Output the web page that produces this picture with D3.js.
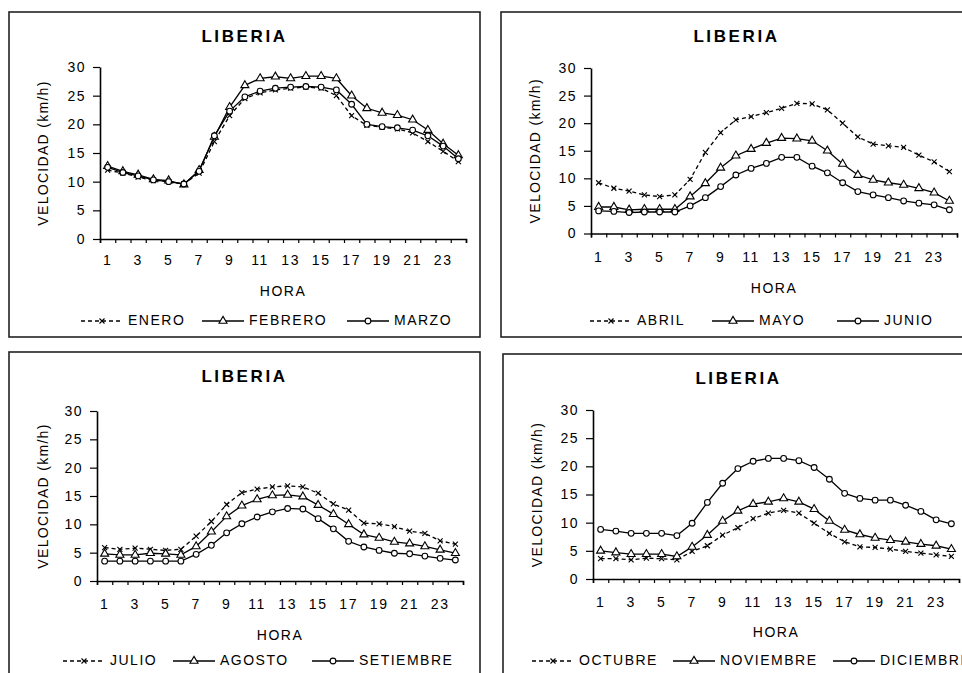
<!doctype html>
<html>
<head>
<meta charset="utf-8">
<title>LIBERIA velocidad del viento</title>
<script src="https://cdn.jsdelivr.net/npm/d3@7"></script>
<style>
  body { margin: 0; background: #fff; }
  text { font-family: "Liberation Sans", Arial, sans-serif; fill: #000; }
</style>
</head>
<body>
<div id="chart"></div>
<script>
  // hours 1..24 (category axis), only odd ones get a label
  var HORAS = [1, 2, 3, 4, 5, 6, 7, 8, 9, 10, 11, 12, 13, 14, 15, 16, 17, 18, 19, 20, 21, 22, 23, 24];
  var Y_TICKS = [0, 5, 10, 15, 20, 25, 30];

  // wind speed km/h
  var ENERO     = [12.0, 11.5, 10.8, 10.2, 10.0, 9.6, 11.5, 17.0, 21.5, 24.5, 25.5, 26.0, 26.3, 26.5, 26.3, 25.0, 21.5, 19.8, 19.5, 19.2, 18.5, 17.0, 15.3, 13.5];
  var FEBRERO   = [12.7, 11.8, 11.2, 10.4, 10.2, 9.5, 12.0, 17.8, 23.0, 26.8, 28.0, 28.3, 28.0, 28.4, 28.4, 28.0, 25.0, 22.8, 22.0, 21.6, 20.8, 19.0, 16.6, 14.6];
  var MARZO     = [12.5, 11.6, 11.0, 10.3, 10.0, 9.6, 11.8, 18.0, 22.3, 24.8, 25.8, 26.3, 26.5, 26.6, 26.5, 26.0, 23.5, 20.0, 19.6, 19.4, 19.0, 18.0, 16.2, 14.0];

  var ABRIL     = [9.2, 8.2, 7.7, 7.0, 6.7, 7.0, 9.8, 14.7, 18.3, 20.6, 21.2, 21.9, 22.7, 23.6, 23.5, 22.4, 20.0, 17.5, 16.2, 15.9, 15.6, 14.2, 13.0, 11.2];
  var MAYO      = [4.8, 4.8, 4.3, 4.4, 4.4, 4.4, 6.7, 9.1, 11.9, 14.1, 15.3, 16.4, 17.3, 17.2, 16.8, 15.0, 12.6, 10.6, 9.7, 9.2, 8.8, 8.2, 7.4, 5.9];
  var JUNIO     = [4.1, 4.0, 3.8, 3.9, 3.9, 3.9, 5.0, 6.5, 8.5, 10.6, 11.8, 12.7, 13.8, 13.8, 12.2, 11.0, 9.2, 7.6, 7.0, 6.5, 5.9, 5.5, 5.2, 4.3];

  var JULIO     = [5.9, 5.6, 5.8, 5.6, 5.4, 5.6, 7.9, 10.5, 13.5, 15.6, 16.2, 16.6, 16.8, 16.6, 15.5, 13.6, 12.5, 10.2, 10.1, 9.6, 8.8, 8.4, 7.1, 6.5];
  var AGOSTO    = [4.8, 4.6, 4.6, 4.9, 4.8, 4.6, 6.1, 8.7, 11.4, 13.3, 14.4, 15.1, 15.2, 14.9, 13.4, 11.8, 10.0, 8.2, 7.6, 6.9, 6.6, 6.1, 5.5, 4.9];
  var SETIEMBRE = [3.5, 3.5, 3.5, 3.5, 3.5, 3.5, 4.7, 6.3, 8.5, 10.1, 11.3, 12.2, 12.8, 12.7, 11.0, 9.2, 7.0, 6.0, 5.4, 4.9, 4.8, 4.4, 4.0, 3.7];

  var OCTUBRE   = [3.6, 3.6, 3.4, 3.7, 3.6, 3.4, 4.9, 5.9, 7.8, 9.1, 10.7, 11.7, 12.2, 11.7, 9.9, 8.1, 6.6, 5.7, 5.6, 5.3, 4.9, 4.6, 4.3, 4.0];
  var NOVIEMBRE = [5.0, 4.7, 4.4, 4.4, 4.4, 4.0, 5.7, 7.8, 10.3, 12.1, 13.3, 13.7, 14.3, 13.7, 12.4, 10.3, 8.7, 7.9, 7.3, 6.9, 6.6, 6.2, 5.9, 5.3];
  var DICIEMBRE = [8.8, 8.5, 8.1, 8.1, 8.1, 7.7, 9.9, 13.6, 17.0, 19.6, 20.9, 21.4, 21.4, 21.0, 19.8, 17.7, 15.2, 14.3, 14.0, 14.0, 13.1, 12.0, 10.5, 9.8];

  var panels = [
    {ox: 9,   oy: 12,  axisX: 91, top: 55, bottom: 227,   tickBase: 253, horaBase: 284, legBase: 313, legX: [72, 193, 338],
      series: [['ENERO', ENERO], ['FEBRERO', FEBRERO], ['MARZO', MARZO]]},
    {ox: 501, oy: 12,  axisX: 90, top: 56, bottom: 221.5, tickBase: 250, horaBase: 281, legBase: 313, legX: [89, 211, 336],
      series: [['ABRIL', ABRIL], ['MAYO', MAYO], ['JUNIO', JUNIO]]},
    {ox: 9,   oy: 352, axisX: 88, top: 59, bottom: 229,   tickBase: 257, horaBase: 288, legBase: 313, legX: [54, 164, 303],
      series: [['JULIO', JULIO], ['AGOSTO', AGOSTO], ['SETIEMBRE', SETIEMBRE]]},
    {ox: 503, oy: 354, axisX: 90, top: 56, bottom: 225,   tickBase: 253, horaBase: 283, legBase: 311, legX: [29, 170, 330],
      series: [['OCTUBRE', OCTUBRE], ['NOVIEMBRE', NOVIEMBRE], ['DICIEMBRE', DICIEMBRE]]}
  ];

  var panelW = 471, panelH = 325;
  var plotW = 366;
  var font = '14px';
  var spacing = '1.5px';

  var svg = d3.select('#chart')
      .append('svg')
      .attr('width', 962)
      .attr('height', 673);

  // marker for series index 0 (x), 1 (open triangle), 2 (open circle)
  function drawMarker(sel, idx) {
    if (idx === 0) {
      sel.append('path')
          .attr('d', 'M-2.5,-2.5L2.5,2.5M-2.5,2.5L2.5,-2.5')
          .attr('stroke', '#000')
          .attr('stroke-width', 1.1)
          .attr('fill', 'none');
    } else if (idx === 1) {
      sel.append('path')
          .attr('d', d3.symbol(d3.symbolTriangle, 28))
          .attr('stroke', '#000')
          .attr('stroke-width', 1.1)
          .attr('fill', '#fff');
    } else {
      sel.append('path')
          .attr('d', d3.symbol(d3.symbolCircle, 26))
          .attr('stroke', '#000')
          .attr('stroke-width', 1.1)
          .attr('fill', '#fff');
    }
  }

  var dashes = ['4,3', null, null];

  panels.forEach(function(p) {
    var g = svg.append('g')
        .attr('transform', 'translate(' + p.ox + ',' + p.oy + ')');

    // frame
    g.append('rect')
        .attr('x', 0)
        .attr('y', 0)
        .attr('width', panelW)
        .attr('height', panelH)
        .attr('fill', 'none')
        .attr('stroke', '#222')
        .attr('stroke-width', 1.6);

    // title
    g.append('text')
        .attr('x', panelW / 2)
        .attr('y', 30)
        .attr('text-anchor', 'middle')
        .attr('font-size', '17px')
        .attr('font-weight', 'bold')
        .attr('letter-spacing', '2.6px')
        .text('LIBERIA');

    var plot = g.append('g')
        .attr('transform', 'translate(' + p.axisX + ',0)');

    // Scale
    var x = d3.scaleBand()
        .domain(HORAS)
        .range([0, plotW]);
    var xEdge = d3.scaleLinear()
        .domain([0, HORAS.length])
        .range([0, plotW]);
    var y = d3.scaleLinear()
        .domain([0, 30])
        .range([p.bottom, p.top]);

    // Axis
    var xLabels = plot.append('g')
        .attr('transform', 'translate(0,' + p.bottom + ')')
        .call(d3.axisBottom(x)
            .tickSize(0)
            .tickPadding(p.tickBase - p.bottom - 10)
            .tickFormat(function(d) { return d % 2 ? d : ''; }));
    xLabels.select('.domain').remove();

    plot.append('g')
        .attr('transform', 'translate(0,' + p.bottom + ')')
        .call(d3.axisBottom(xEdge)
            .ticks(HORAS.length)
            .tickSize(4)
            .tickSizeOuter(4)
            .tickFormat(''));

    plot.append('g')
        .call(d3.axisLeft(y)
            .tickValues(Y_TICKS)
            .tickSize(7)
            .tickSizeOuter(0)
            .tickPadding(7));

    plot.selectAll('.domain')
        .attr('stroke', '#000')
        .attr('stroke-width', 1.6);
    plot.selectAll('.tick line')
        .attr('stroke', '#000')
        .attr('stroke-width', 1.2);
    plot.selectAll('.tick text')
        .attr('font-family', '"Liberation Sans", Arial, sans-serif')
        .attr('font-size', font)
        .attr('letter-spacing', spacing)
        .attr('fill', '#000');

    // y label
    g.append('text')
        .attr('transform', 'translate(' + 39 + ',' + ((p.top + p.bottom) / 2) + ') rotate(-90)')
        .attr('text-anchor', 'middle')
        .attr('font-size', font)
        .attr('letter-spacing', '1.3px')
        .text('VELOCIDAD (km/h)');

    // x label
    g.append('text')
        .attr('x', p.axisX + plotW / 2)
        .attr('y', p.horaBase)
        .attr('text-anchor', 'middle')
        .attr('font-size', font)
        .attr('letter-spacing', spacing)
        .text('HORA');

    // lines
    var line = d3.line()
        .x(function(d, i) { return x(HORAS[i]) + x.bandwidth() / 2; })
        .y(function(d) { return y(d); });

    p.series.forEach(function(s, idx) {
      plot.append('path')
          .datum(s[1])
          .attr('d', line)
          .attr('fill', 'none')
          .attr('stroke', '#000')
          .attr('stroke-width', 1.3)
          .attr('stroke-dasharray', dashes[idx]);
    });
    p.series.forEach(function(s, idx) {
      plot.selectAll('.m' + idx)
          .data(s[1])
          .enter()
          .append('g')
          .attr('class', 'm' + idx)
          .attr('transform', function(d, i) {
            return 'translate(' + (x(HORAS[i]) + x.bandwidth() / 2) + ',' + y(d) + ')';
          })
          .each(function() { drawMarker(d3.select(this), idx); });
    });

    // legend
    p.series.forEach(function(s, idx) {
      var lg = g.append('g')
          .attr('transform', 'translate(' + p.legX[idx] + ',' + (p.legBase - 4) + ')');
      lg.append('line')
          .attr('x1', 0)
          .attr('x2', 42)
          .attr('y1', 0)
          .attr('y2', 0)
          .attr('stroke', '#000')
          .attr('stroke-width', 1.3)
          .attr('stroke-dasharray', dashes[idx]);
      var mk = lg.append('g').attr('transform', 'translate(21,0)');
      drawMarker(mk, idx);
      lg.append('text')
          .attr('x', 47)
          .attr('y', 4)
          .attr('font-size', font)
          .attr('letter-spacing', spacing)
          .text(s[0]);
    });
  });
</script>
</body>
</html>
